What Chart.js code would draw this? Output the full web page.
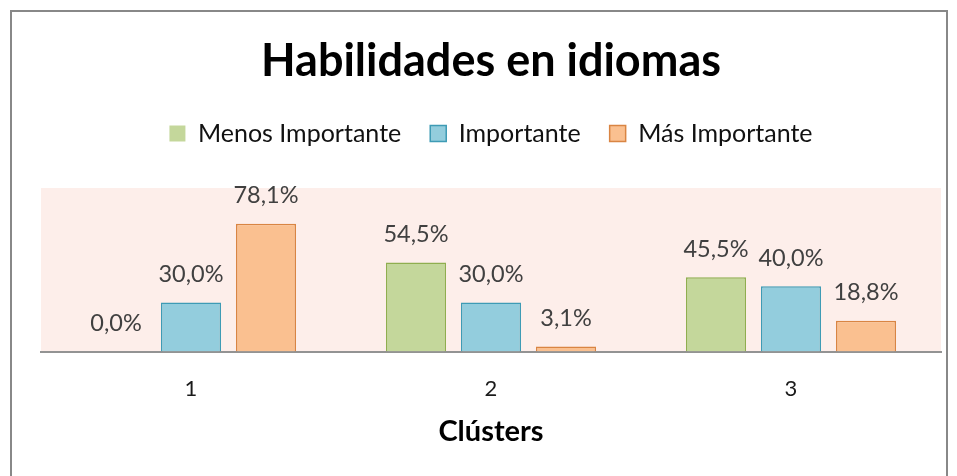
<!DOCTYPE html>
<html>
<head>
<meta charset="utf-8">
<script src="https://cdn.jsdelivr.net/npm/chart.js@4.4.0/dist/chart.umd.min.js"></script>
<style>
  body { margin: 0; background: #fff; }
  #wrap { position: relative; width: 957px; height: 476px; overflow: hidden; }
  #frame { position: absolute; left: 10px; top: 10px; width: 934px; height: 480px; border: 2px solid #888; }
  canvas { position: absolute; left: 0; top: 0; }
</style>
</head>
<body>
<div id="wrap">
  <div id="frame"></div>
  <canvas id="barChart" width="957" height="476"></canvas>
</div>
<script>
const clusters = ['1', '2', '3'];
const menosImportante = [0.0, 54.5, 45.5];
const importante = [30.0, 30.0, 40.0];
const masImportante = [78.1, 3.1, 18.8];

const fontFamily = 'Lato, "Open Sans", sans-serif';

// pink plot background
const plotBg = {
	id: 'plotBg',
	beforeDraw(chart) {
		const { ctx, chartArea } = chart;
		ctx.save();
		ctx.fillStyle = '#FDEEEA';
		ctx.fillRect(chartArea.left, chartArea.top, chartArea.right - chartArea.left, chartArea.bottom - chartArea.top);
		ctx.restore();
	},
};

// value labels above each bar, e.g. 78,1%
const valueLabels = {
	id: 'valueLabels',
	afterDatasetsDraw(chart) {
		const ctx = chart.ctx;
		ctx.save();
		ctx.font = '23.5px ' + fontFamily;
		ctx.fillStyle = '#404040';
		ctx.textAlign = 'center';
		ctx.textBaseline = 'middle';
		chart.data.datasets.forEach((ds, i) => {
			chart.getDatasetMeta(i).data.forEach((bar, j) => {
				const txt = ds.data[j].toFixed(1).replace('.', ',') + '%';
				ctx.fillText(txt, bar.x, bar.y - 28);
			});
		});
		ctx.restore();
	},
};

// extra gap under the legend
const legendGap = {
	id: 'legendGap',
	beforeInit(chart) {
		const fit = chart.legend.fit;
		chart.legend.fit = function () {
			fit.bind(chart.legend)();
			this.height += 32;
		};
	},
};

// no outline for a zero-height bar
const noZero = (c) => (c.raw === 0 ? 0 : 1.5);

new Chart(document.getElementById('barChart'), {
	type: 'bar',
	data: {
		labels: clusters,
		datasets: [
			{
				label: 'Menos Importante',
				data: menosImportante,
				backgroundColor: '#C4D79B',
				borderColor: '#8FAE4F',
				borderWidth: noZero,
			},
			{
				label: 'Importante',
				data: importante,
				backgroundColor: '#93CDDD',
				borderColor: '#3E9BB5',
				borderWidth: noZero,
			},
			{
				label: 'Más Importante',
				data: masImportante,
				backgroundColor: '#FAC090',
				borderColor: '#D98543',
				borderWidth: noZero,
			},
		],
	},
	options: {
		responsive: false,
		animation: false,
		categoryPercentage: 0.75,
		barPercentage: 0.8,
		layout: { padding: { left: 41, right: 16, top: 10, bottom: 39 } },
		plugins: {
			title: {
				display: true,
				text: 'Habilidades en idiomas',
				color: '#000',
				font: { family: fontFamily, size: 45, weight: 'bold' },
				padding: { top: 24, bottom: 4 },
			},
			legend: {
				labels: {
					color: '#111',
					font: { family: fontFamily, size: 25 },
					boxWidth: 16,
					boxHeight: 16,
					padding: 29,
				},
			},
			tooltip: { enabled: false },
		},
		scales: {
			x: {
				grid: { display: false, drawTicks: false },
				border: { display: true, color: '#939393', width: 2 },
				ticks: { color: '#1a1a1a', font: { family: fontFamily, size: 22 }, padding: 24 },
				title: {
					display: true,
					text: 'Clústers',
					color: '#000',
					font: { family: fontFamily, size: 29, weight: 'bold', lineHeight: '10px' },
					padding: { top: 1, bottom: 0 },
				},
			},
			y: {
				display: false,
				min: 0,
				max: 100,
			},
		},
	},
	plugins: [plotBg, valueLabels, legendGap],
});
</script>
</body>
</html>
